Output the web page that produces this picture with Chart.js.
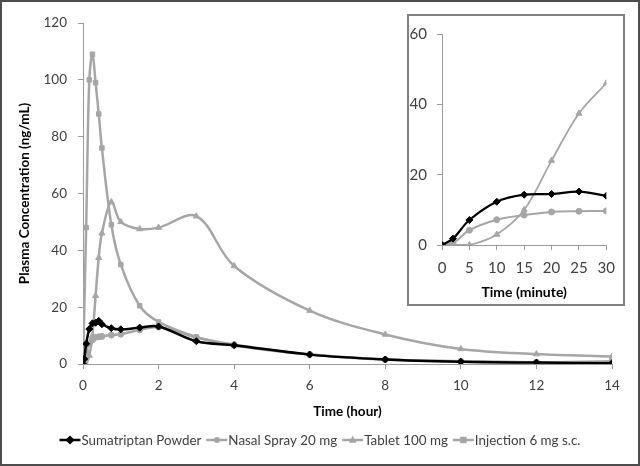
<!DOCTYPE html>
<html>
<head>
<meta charset="utf-8">
<script src="https://cdn.jsdelivr.net/npm/chart.js@4.4.1/dist/chart.umd.min.js"></script>
<style>
html, body { margin: 0; padding: 0; background: #fff; }
#wrap { position: relative; width: 640px; height: 466px; overflow: hidden; }
#main { position: absolute; left: 0; top: 0; }
#inset { position: absolute; left: 408px; top: 15px; background: #fff; }
#insetBox { position: absolute; left: 407px; top: 14px; width: 218px; height: 292px; box-sizing: border-box; border: 2px solid #808080; pointer-events: none; }
#frame { position: absolute; left: 0; top: 0; width: 640px; height: 466px; box-sizing: border-box; border: 2px solid #4d4d4d; pointer-events: none; }
</style>
</head>
<body>
<div id="wrap">
  <canvas id="main" width="640" height="466"></canvas>
  <canvas id="inset" width="216" height="290"></canvas>
  <div id="insetBox"></div>
  <div id="frame"></div>
</div>
<script>
// sampling times (minutes)
const minutes = [0, 2, 5, 10, 15, 20, 25, 30, 45, 60, 90, 120, 180, 240, 360, 480, 600, 720, 840];
const injMinutes = [0, 5, 10, 15, 20, 25, 30, 45, 60, 90, 120, 180, 240, 360, 480, 600, 720, 840];
const insetMinutes = [0, 2, 5, 10, 15, 20, 25, 30];

// plasma concentration (ng/mL)
const powder = [0, 1.8, 7.1, 12.3, 14.3, 14.5, 15.2, 14.0, 12.6, 12.2, 12.8, 13.2, 8.0, 6.6, 3.3, 1.6, 0.8, 0.5, 0.3];
const nasal = [0, 0.5, 4.2, 7.2, 8.5, 9.4, 9.6, 9.7, 10.2, 10.5, 12.0, 13.0, 9.3, 6.8, 3.4, 1.6, 0.9, 0.6, 0.4];
const tablet = [0, 0, 0, 3.0, 10.0, 24.0, 37.4, 46.0, 57.0, 50.0, 47.5, 48.0, 52.0, 34.5, 18.8, 10.4, 5.3, 3.5, 2.6];
const injection = [0, 48, 100, 109, 99, 88, 76, 49, 35, 20.5, 14.8, 9.5, 6.5, 3.3, 1.5, 1.0, 0.6, 1.0];

const insetPowder = [0, 1.8, 7.1, 12.3, 14.3, 14.5, 15.2, 14.0];
const insetNasal = [0, 0.5, 4.2, 7.2, 8.5, 9.4, 9.6, 9.7];
const insetTablet = [0, 0, 0, 3.0, 10.0, 24.0, 37.4, 46.0];

const seriesNames = ['Sumatriptan Powder', 'Nasal Spray 20 mg', 'Tablet 100 mg', 'Injection 6 mg s.c.'];
const hourTicks = [0, 2, 4, 6, 8, 10, 12, 14];

const GRAY = '#a6a6a6';
const BLACK = '#000000';
const AXIS = '#9a9a9a';
const FONT = 'Lato, "Open Sans", sans-serif';

const styles = [
  { color: BLACK, point: 'rectRot', r: 3.5 },
  { color: GRAY, point: 'circle', r: 3 },
  { color: GRAY, point: 'triangle', r: 3.5 },
  { color: GRAY, point: 'rect', r: 3.2 }
];

function toPoints(xs, ys, scale) {
  return ys.map((v, i) => ({ x: xs[i] / scale, y: v }));
}

function makeSet(i, xs, ys, scale, width) {
  const s = styles[i];
  return {
    label: seriesNames[i],
    data: toPoints(xs, ys, scale),
    borderColor: s.color,
    backgroundColor: s.color,
    borderWidth: width,
    pointStyle: s.point,
    pointRadius: s.r,
    pointBorderWidth: 1,
    tension: 0.35,
    fill: false
  };
}

// marker shapes for the legend
function drawMarker(ctx, type, x, y, r, color) {
  ctx.save();
  ctx.fillStyle = color;
  ctx.beginPath();
  if (type === 'circle') {
    ctx.arc(x, y, r, 0, Math.PI * 2);
  } else if (type === 'rect') {
    ctx.rect(x - r, y - r, r * 2, r * 2);
  } else if (type === 'rectRot') {
    ctx.moveTo(x, y - r * 1.3); ctx.lineTo(x + r * 1.3, y);
    ctx.lineTo(x, y + r * 1.3); ctx.lineTo(x - r * 1.3, y);
    ctx.closePath();
  } else if (type === 'triangle') {
    ctx.moveTo(x, y - r * 1.2); ctx.lineTo(x + r * 1.1, y + r * 0.8);
    ctx.lineTo(x - r * 1.1, y + r * 0.8); ctx.closePath();
  }
  ctx.fill();
  ctx.restore();
}

const legendPlugin = {
  id: 'bottomLegend',
  afterDraw(chart) {
    const ctx = chart.ctx;
    ctx.save();
    ctx.font = '13.4px ' + FONT;
    ctx.textBaseline = 'middle';
    const lineLen = 21, gap = 1, between = 5;
    const widths = seriesNames.map(n => lineLen + gap + ctx.measureText(n).width);
    const total = widths.reduce((a, b) => a + b, 0) + between * (seriesNames.length - 1);
    let x = 320 - total / 2;
    const y = 440;
    seriesNames.forEach((n, i) => {
      const s = styles[i];
      ctx.strokeStyle = s.color;
      ctx.lineWidth = 2.5;
      ctx.beginPath();
      ctx.moveTo(x, y); ctx.lineTo(x + lineLen, y);
      ctx.stroke();
      drawMarker(ctx, s.point, x + lineLen / 2, y, s.r, s.color);
      ctx.fillStyle = '#404040';
      ctx.fillText(n, x + lineLen + gap, y + 1);
      x += widths[i] + between;
    });
    ctx.restore();
  }
};

function axisGrid() {
  return { display: true, drawOnChartArea: false, drawTicks: true, tickLength: 5, color: AXIS, lineWidth: 1 };
}

// main chart (hours)
new Chart(document.getElementById('main').getContext('2d'), {
  type: 'line',
  data: {
    datasets: [
      makeSet(0, minutes, powder, 60, 2.5),
      makeSet(1, minutes, nasal, 60, 2.5),
      makeSet(2, minutes, tablet, 60, 2.5),
      makeSet(3, injMinutes, injection, 60, 2.5)
    ]
  },
  options: {
    responsive: false,
    animation: false,
    layout: { padding: { left: 17, right: 28, top: 23, bottom: 46 } },
    plugins: { legend: { display: false }, tooltip: { enabled: false } },
    scales: {
      x: {
        type: 'linear', min: 0, max: 14,
        afterBuildTicks: s => { s.ticks = hourTicks.map(v => ({ value: v })); },
        afterFit: s => { s.height = 56; },
        grid: axisGrid(),
        border: { color: AXIS },
        ticks: { color: '#404040', font: { family: FONT, size: 13.5 }, padding: 9, maxRotation: 0 },
        title: { display: true, text: 'Time (hour)', color: '#000', font: { family: FONT, size: 13.5, weight: 'bold' }, padding: 0 }
      },
      y: {
        min: 0, max: 120,
        ticks: { stepSize: 20, color: '#404040', font: { family: FONT, size: 13.5 }, padding: 11 },
        afterFit: s => { s.width = 66; },
        grid: axisGrid(),
        border: { color: AXIS },
        title: { display: true, text: 'Plasma Concentration (ng/mL)', color: '#000', font: { family: FONT, size: 13.5, weight: 'bold' }, padding: 0 }
      }
    }
  },
  plugins: [legendPlugin]
});

// inset chart (minutes)
new Chart(document.getElementById('inset').getContext('2d'), {
  type: 'line',
  data: {
    datasets: [
      makeSet(0, insetMinutes, insetPowder, 1, 2.2),
      makeSet(1, insetMinutes, insetNasal, 1, 2),
      makeSet(2, insetMinutes, insetTablet, 1, 1.8)
    ]
  },
  options: {
    responsive: false,
    animation: false,
    layout: { padding: { left: 0, right: 17, top: 13, bottom: 4 } },
    plugins: { legend: { display: false }, tooltip: { enabled: false } },
    scales: {
      x: {
        type: 'linear', min: 0, max: 30,
        ticks: { stepSize: 5, color: '#404040', font: { family: FONT, size: 15 }, padding: 9, maxRotation: 0 },
        afterFit: s => { s.height = 56; },
        grid: axisGrid(),
        border: { color: AXIS },
        title: { display: true, text: 'Time (minute)', color: '#000', font: { family: FONT, size: 14, weight: 'bold' }, padding: 0 }
      },
      y: {
        min: 0, max: 60,
        ticks: { stepSize: 20, color: '#404040', font: { family: FONT, size: 15 }, padding: 10 },
        afterFit: s => { s.width = 34; },
        grid: axisGrid(),
        border: { color: AXIS }
      }
    }
  }
});
</script>
</body>
</html>
